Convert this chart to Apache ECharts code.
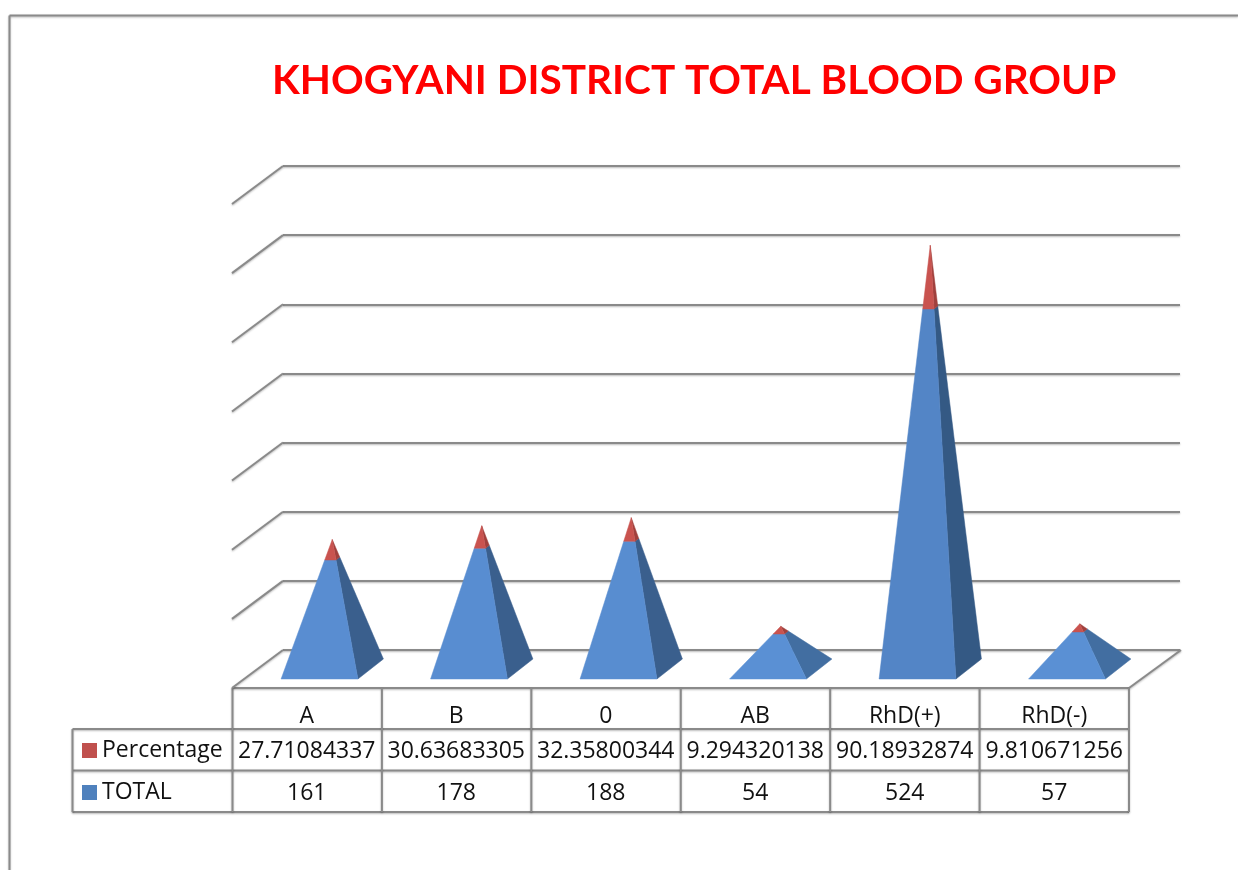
<!DOCTYPE html>
<html>
<head>
<meta charset="utf-8">
<style>html,body{margin:0;padding:0;background:#fff}#c{width:1238px;height:870px}</style>
<script src="https://cdn.jsdelivr.net/npm/echarts@6/dist/echarts.min.js"></script>
</head>
<body>
<div id="c"></div>
<script>
const titleText = 'KHOGYANI DISTRICT TOTAL BLOOD GROUP';
const categories = ['A', 'B', '0', 'AB', 'RhD(+)', 'RhD(-)'];
const totalValues = [161, 178, 188, 54, 524, 57];
const percentageValues = [27.71084337, 30.63683305, 32.35800344, 9.294320138, 90.18932874, 9.810671256];
const valueTicks = [0, 100, 200, 300, 400, 500, 600, 700];

const FONT = '"Open Sans"';
const LINE = '#8a8a8a';
const SHADOW = { shadowColor: 'rgba(0,0,0,0.28)', shadowBlur: 2, shadowOffsetY: 1 };
const GRID = { left: 283, right: 58, top: 166, bottom: 220 };
const DEPTH = { x: 51, y: 38 };
const ROWS = { head: 688, pct: 729, tot: 770.5, end: 812 };
const TABLE_LEFT = 72.5;

function mix(a, b, t) {
  return '#' + [0, 2, 4].map(i => {
    const p = parseInt(a.substr(i + 1, 2), 16), q = parseInt(b.substr(i + 1, 2), 16);
    return Math.round(p + (q - p) * t).toString(16).padStart(2, '0');
  }).join('');
}

function lerp(p, q, f) { return [p[0] + (q[0] - p[0]) * f, p[1] + (q[1] - p[1]) * f]; }

// Geometry of one pyramid, through the axes' scales.
function pyramid(api, i, sum) {
  const band = api.size([1, 0])[0];
  const base = api.coord([i, 0]);
  const top = api.coord([i, sum]);
  const cx = base[0] - DEPTH.x / 2, cy = base[1] + DEPTH.y / 2;
  const w = band * 0.514, dx = DEPTH.x / 4, dy = DEPTH.y / 4 + 0.5;
  return {
    apex: [top[0] - DEPTH.x / 2, top[1] + DEPTH.y / 2 + 1],
    fl: [cx - w / 2 - dx, cy + dy],
    fr: [cx + w / 2 - dx, cy + dy],
    br: [cx + w / 2 + dx, cy - dy]
  };
}

function poly(points, fill) {
  return { type: 'polygon', shape: { points }, style: { fill, stroke: fill, lineWidth: 0.5 }, silent: true };
}

function cellText(api, i, str, rowTop, rowBottom) {
  const x = api.coord([i, 0])[0] - DEPTH.x;
  return {
    type: 'text', silent: true,
    style: { text: str, x, y: (rowTop + rowBottom) / 2 + 2, align: 'center', verticalAlign: 'middle',
      font: '23px ' + FONT, fill: '#111' }
  };
}

function renderTotal(params, api) {
  const i = api.value(0), total = api.value(1), pct = api.value(2);
  const p = pyramid(api, i, total + pct);
  const f = pct / (total + pct);
  const steep = Math.min(1, total / 524);
  const front = mix('#5b91d6', '#5385c6', steep);
  const side = total < 100 ? '#426ea1' : (total > 400 ? '#345984' : '#3a5f8d');
  return { type: 'group', children: [
    poly([lerp(p.apex, p.fr, f), lerp(p.apex, p.br, f), p.br, p.fr], side),
    poly([lerp(p.apex, p.fl, f), lerp(p.apex, p.fr, f), p.fr, p.fl], front),
    cellText(api, i, String(total), ROWS.tot, ROWS.end)
  ] };
}

function renderPercentage(params, api) {
  const i = api.value(0), total = api.value(1), pct = api.value(2);
  const p = pyramid(api, i, total + pct);
  const f = pct / (total + pct);
  return { type: 'group', children: [
    poly([p.apex, lerp(p.apex, p.br, f), lerp(p.apex, p.fr, f)], '#a0403d'),
    poly([p.apex, lerp(p.apex, p.fr, f), lerp(p.apex, p.fl, f)], '#c9534f'),
    cellText(api, i, String(pct), ROWS.pct, ROWS.tot)
  ] };
}

// Depth lines of the left wall, one per value tick.
function renderWall(params, api) {
  const y = api.coord([0, api.value(0)])[1];
  return { type: 'line', silent: true,
    shape: { x1: GRID.left, y1: y, x2: GRID.left - DEPTH.x, y2: y + DEPTH.y },
    style: Object.assign({ stroke: LINE, lineWidth: 2 }, SHADOW) };
}

const rows = categories.map((c, i) => [i, totalValues[i], percentageValues[i]]);

// Frame and data-table rules
const right = 1238 - GRID.right - DEPTH.x;
const left = GRID.left - DEPTH.x + 0.5;
const colW = (right - left) / categories.length;
function rule(x1, y1, x2, y2) {
  return { type: 'line', silent: true, z: 1, shape: { x1, y1, x2, y2 },
    style: Object.assign({ stroke: LINE, lineWidth: 2 }, SHADOW) };
}
const rules = [
  rule(9.5, 15.5, 1238, 15.5),
  rule(9.5, 15.5, 9.5, 870),
  rule(left, ROWS.head, right, ROWS.head),
  rule(right, ROWS.head, 1181, 650),
  rule(TABLE_LEFT, ROWS.pct, right, ROWS.pct),
  rule(TABLE_LEFT, ROWS.tot, right, ROWS.tot),
  rule(TABLE_LEFT, ROWS.end, right, ROWS.end),
  rule(TABLE_LEFT, ROWS.pct, TABLE_LEFT, ROWS.end)
];
for (let i = 0; i <= categories.length; i++) {
  const x = left + colW * i;
  rules.push(rule(x, ROWS.head, x, ROWS.end));
}

const chart = echarts.init(document.getElementById('c'), null, { renderer: 'canvas' });
chart.setOption({
  animation: false,
  backgroundColor: '#ffffff',
  title: {
    text: titleText, left: 267, top: 55,
    textStyle: { fontFamily: 'Lato', fontSize: 40.5, fontWeight: 'bold', color: '#ff0000' }
  },
  legend: {
    data: [{ name: 'Percentage', icon: 'rect' }, { name: 'TOTAL', icon: 'rect' }],
    orient: 'vertical', left: 77, top: 734,
    itemWidth: 15, itemHeight: 15, itemGap: 19, selectedMode: false,
    textStyle: { fontFamily: FONT, fontSize: 23, color: '#111' }
  },
  grid: { left: GRID.left, right: GRID.right, top: GRID.top, bottom: GRID.bottom, containLabel: false },
  xAxis: {
    type: 'category', data: categories,
    axisLine: { show: false }, axisTick: { show: false },
    axisLabel: { margin: 55, fontFamily: FONT, fontSize: 23, color: '#111', padding: [0, DEPTH.x * 2, 0, 0], interval: 0 }
  },
  yAxis: {
    type: 'value', min: valueTicks[0], max: valueTicks[valueTicks.length - 1], interval: 100,
    axisLine: { show: false }, axisTick: { show: false }, axisLabel: { show: false },
    splitLine: { show: true, lineStyle: Object.assign({ color: LINE, width: 2 }, SHADOW) }
  },
  graphic: rules,
  series: [
    { type: 'custom', name: 'wall', coordinateSystem: 'cartesian2d', z: 1, clip: false,
      renderItem: renderWall, data: valueTicks.map(v => [v]), encode: { y: 0 }, silent: true },
    { type: 'custom', name: 'TOTAL', coordinateSystem: 'cartesian2d', z: 3, clip: false,
      itemStyle: { color: '#4f81bd' }, renderItem: renderTotal, data: rows, encode: { x: 0, y: 1 } },
    { type: 'custom', name: 'Percentage', coordinateSystem: 'cartesian2d', z: 3, clip: false,
      itemStyle: { color: '#c0504d' }, renderItem: renderPercentage, data: rows, encode: { x: 0, y: 1 } }
  ]
});
</script>
</body>
</html>
